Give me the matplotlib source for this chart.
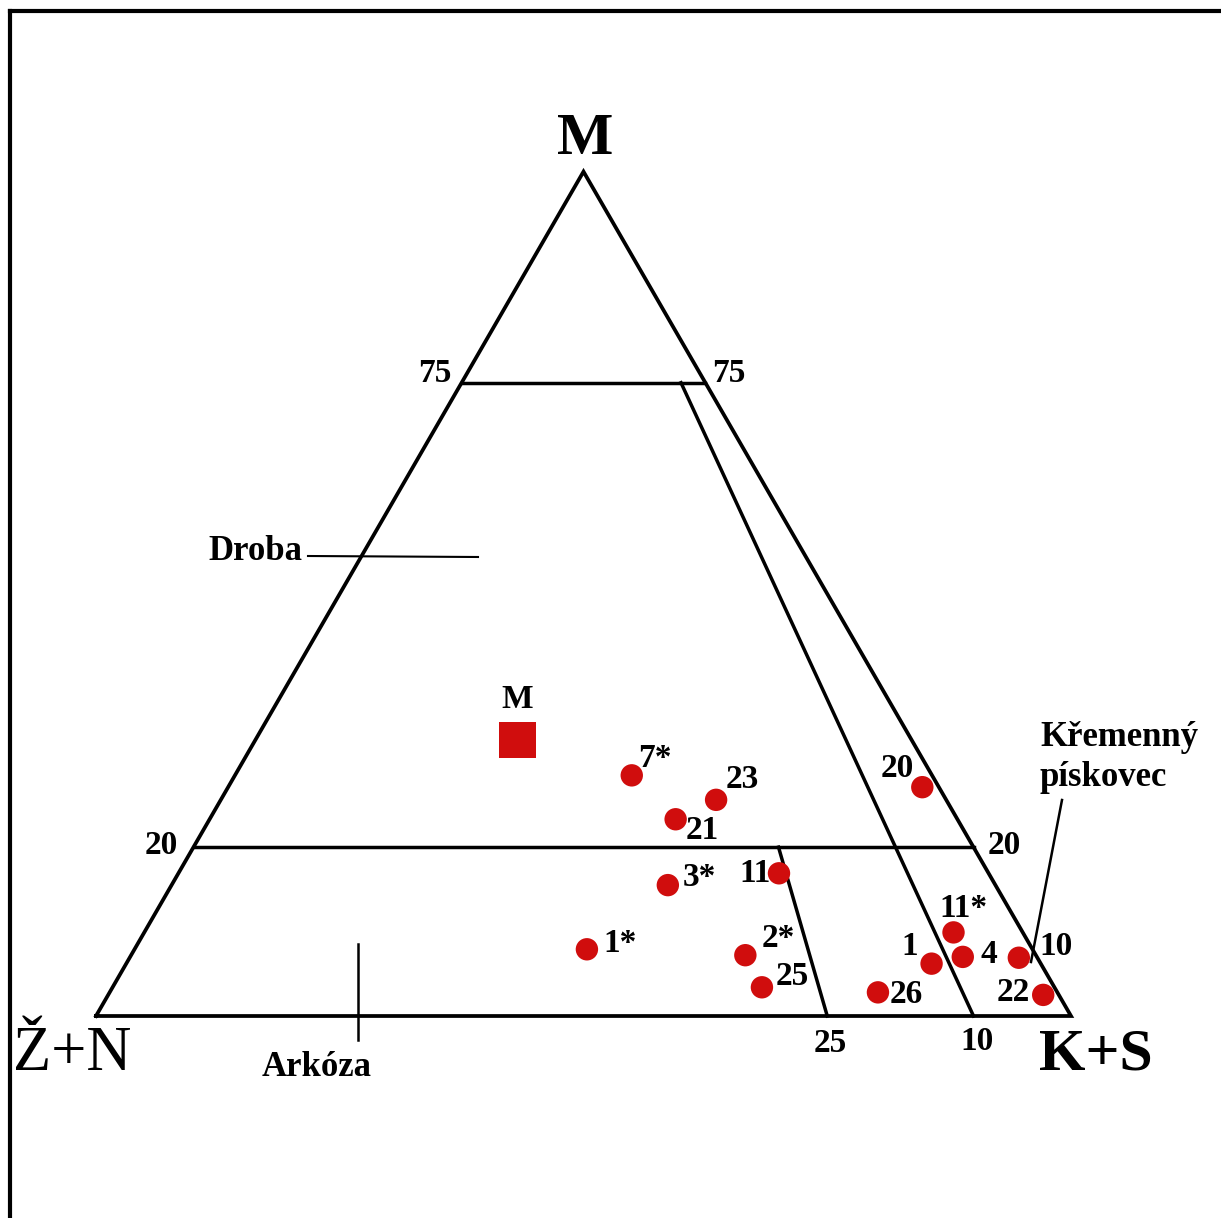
import numpy as np
import matplotlib.pyplot as plt

plt.rcParams['font.family'] = ['Liberation Serif', 'DejaVu Serif']

# samples in % : M = matrix, K+S = quartz + silicite, Z+N = feldspar + rock fragments
samples = ["7*", "23", "21", "3*", "11", "1*", "2*", "25", "20", "11*", "1", "4", "10", "22", "26"]
m_val = [28.5, 25.6, 23.3, 15.5, 16.9, 7.9, 7.2, 3.4, 27.1, 9.9, 6.2, 7.0, 6.9, 2.5, 2.8]
ks_val = [40.7, 50.8, 47.8, 50.9, 61.6, 46.4, 63.0, 66.6, 71.2, 83.0, 82.6, 85.4, 91.2, 95.9, 78.8]
zn_val = [30.8, 23.6, 28.9, 33.6, 21.5, 45.7, 29.8, 30.0, 1.7, 7.1, 11.2, 7.6, 1.9, 1.6, 18.4]

# mean composition (square "M")
mean_m, mean_ks, mean_zn = 32.7, 26.9, 40.4

# field boundaries: matrix limits and Z+N/(Z+N+K+S) ratio lines
m_limits = [75, 20]
ratio_lines = [25, 10]          # % of Z+N at the base
ratio_top = {25: 20, 10: 75}    # matrix level where each ratio line stops

# label offsets (pixels, right / up) for the sample numbers
lab_off = [(23, 17), (26, 20), (27, -11), (32, 8), (-24, 0), (33, 6), (33, 17), (30, 11),
           (-25, 19), (10, 24), (-22, 17), (26, 2), (37, 11), (-30, 2), (28, -2)]

RED = '#d00d0d'
H = np.sqrt(3) / 2


def tern(m, ks, zn):
    # ternary -> cartesian, side = 100, Z+N left, K+S right, M top
    m = np.asarray(m, float)
    ks = np.asarray(ks, float)
    zn = np.asarray(zn, float)
    tot = m + ks + zn
    m, ks = m / tot, ks / tot
    return 100 * (ks + m / 2), 100 * m * H


W, HGT = 1221, 1218
fig = plt.figure(figsize=(W / 100, HGT / 100), dpi=100)
ax = fig.add_axes([0, 0, 1, 1])
s = 9.75  # pixels per unit
ax.set_xlim(-96 / s, (W - 96) / s)
ax.set_ylim((1016 - HGT) / s, 1016 / s)
ax.axis('off')


def fxy(px, py):
    return px / W, 1 - py / HGT


# frame (top and left only)
fig.add_artist(plt.Line2D([9.5 / W, 1], [1 - 11 / HGT, 1 - 11 / HGT], color='black', lw=3, transform=fig.transFigure))
fig.add_artist(plt.Line2D([9.5 / W, 9.5 / W], [0, 1 - 11 / HGT], color='black', lw=3, transform=fig.transFigure))

# triangle
tx, ty = tern([0, 0, 100, 0], [0, 100, 0, 0], [100, 0, 0, 100])
ax.plot(tx, ty, color='black', lw=2.7, solid_joinstyle='miter', zorder=2)

# horizontal matrix lines
for mv in m_limits:
    lx, ly = tern([mv, mv], [0, 100 - mv], [100 - mv, 0])
    ax.plot(lx, ly, color='black', lw=2.5, zorder=2)

# ratio lines
for r in ratio_lines:
    mt = ratio_top[r]
    rest = 100 - mt
    lx, ly = tern([0, mt], [100 - r, rest * (100 - r) / 100], [r, rest * r / 100])
    ax.plot(lx, ly, color='black', lw=2.5, zorder=2)

# samples
px, py = tern(m_val, ks_val, zn_val)
ax.scatter(px, py, s=260, color=RED, edgecolors='none', zorder=4)
for name, x, y, (dx, dy) in zip(samples, px, py, lab_off):
    ax.annotate(name, (x, y), xytext=(dx, dy), textcoords='offset pixels',
                ha='center', va='center', fontsize=24, fontweight='bold', zorder=5)

mx, my = tern(mean_m, mean_ks, mean_zn)
ax.scatter([mx], [my], s=700, marker='s', color=RED, edgecolors='none', zorder=4)
ax.annotate('M', (mx, my), xytext=(0, 40), textcoords='offset pixels',
            ha='center', va='center', fontsize=24, fontweight='bold')

# vertex labels
fig.text(*fxy(585, 140), 'M', ha='center', va='center', fontsize=43, fontweight='bold')
fig.text(*fxy(72, 1055), 'Ž+N', ha='center', va='center', fontsize=45)
fig.text(*fxy(1096, 1055), 'K+S', ha='center', va='center', fontsize=43, fontweight='bold')

# scale numbers
for t, x, y in [('75', 435, 373), ('75', 729, 373), ('20', 161, 845), ('20', 1004, 845),
                ('25', 830, 1043), ('10', 977, 1042)]:
    fig.text(*fxy(x, y), t, ha='center', va='center', fontsize=24, fontweight='bold')

# field names with pointers
fig.text(*fxy(255, 552), 'Droba', ha='center', va='center', fontsize=25, fontweight='bold')
fig.add_artist(plt.Line2D([308 / W, 478 / W], [1 - 556 / HGT, 1 - 557 / HGT], color='black', lw=1.5))
fig.text(*fxy(317, 1068), 'Arkóza', ha='center', va='center', fontsize=25, fontweight='bold')
fig.add_artist(plt.Line2D([358 / W, 358 / W], [1 - 944 / HGT, 1 - 1040 / HGT], color='black', lw=1.8))
fig.text(*fxy(1040, 738), 'Křemenný', ha='left', va='center', fontsize=25, fontweight='bold')
fig.text(*fxy(1040, 778), 'pískovec', ha='left', va='center', fontsize=25, fontweight='bold')
fig.add_artist(plt.Line2D([1062 / W, 1031 / W], [1 - 800 / HGT, 1 - 962 / HGT], color='black', lw=1.8))

fig.savefig('out.png', dpi=100)
